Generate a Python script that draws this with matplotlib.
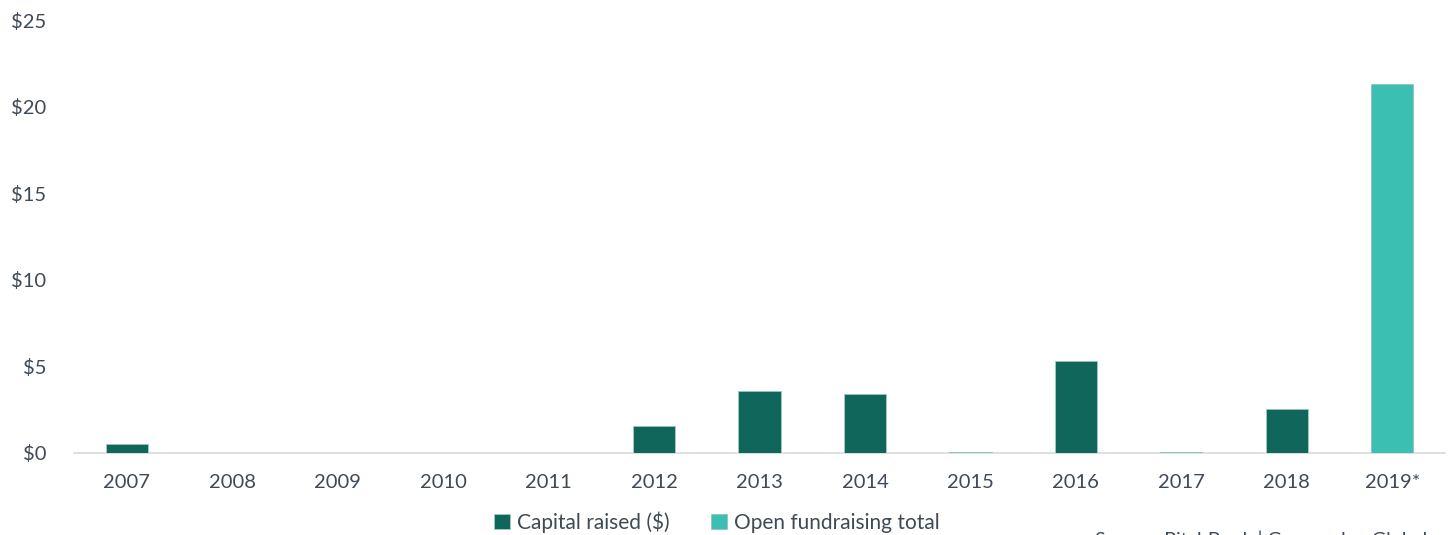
import matplotlib.pyplot as plt
import numpy as np

# Data
years = ['2007', '2008', '2009', '2010', '2011', '2012', '2013',
         '2014', '2015', '2016', '2017', '2018', '2019*']
capital_raised = [0.52, 0, 0, 0, 0, 1.56, 3.58, 3.41, 0, 5.31, 0, 2.54, 0]
open_fundraising = [0, 0, 0, 0, 0, 0, 0, 0, 0.08, 0, 0.08, 0, 21.3]
yticks = [0, 5, 10, 15, 20, 25]

dark = '#10665b'
light = '#3bbfb2'
text_col = '#3f4a56'

plt.rcParams['font.family'] = ['Lato', 'DejaVu Sans']

fig = plt.figure(figsize=(14.55, 5.35), dpi=100)
ax = fig.add_axes([74 / 1455, 1 - 453 / 535, (1445 - 74) / 1455, (453 - 20) / 535])

x = np.arange(len(years))
w = 0.4
ax.bar(x, capital_raised, w, color=dark, edgecolor='#9fcfc6', linewidth=0.6,
       label='Capital raised ($)', zorder=3)
ax.bar(x, open_fundraising, w, bottom=capital_raised, color=light,
       edgecolor='#8fc4bb', linewidth=0.6, label='Open fundraising total', zorder=3)

ax.set_xlim(-0.5, len(years) - 0.5)
ax.set_ylim(0, 25)
ax.set_yticks(yticks)
ax.set_yticklabels([f'\\${v}' for v in yticks])
ax.set_xticks(x)
ax.set_xticklabels(years)
ax.tick_params(length=0, labelsize=14.5, colors=text_col)
ax.tick_params(axis='x', pad=15)
ax.tick_params(axis='y', pad=20)

for s in ['top', 'right', 'left']:
    ax.spines[s].set_visible(False)
ax.spines['bottom'].set_color('#d9d9d9')
ax.spines['bottom'].set_linewidth(1.2)

ax.legend(loc='center', bbox_to_anchor=(717 / 1455, 1 - 522 / 535),
          bbox_transform=fig.transFigure, ncol=2, frameon=False,
          fontsize=15, labelcolor=text_col, handlelength=0.75, handleheight=0.75,
          handletextpad=0.35, columnspacing=2.0)

fig.text(1095 / 1455, -0.008, 'Source: PitchBook | Geography: Global',
         fontsize=14, color=text_col, ha='left', va='center')

fig.savefig('out.png', dpi=100)
